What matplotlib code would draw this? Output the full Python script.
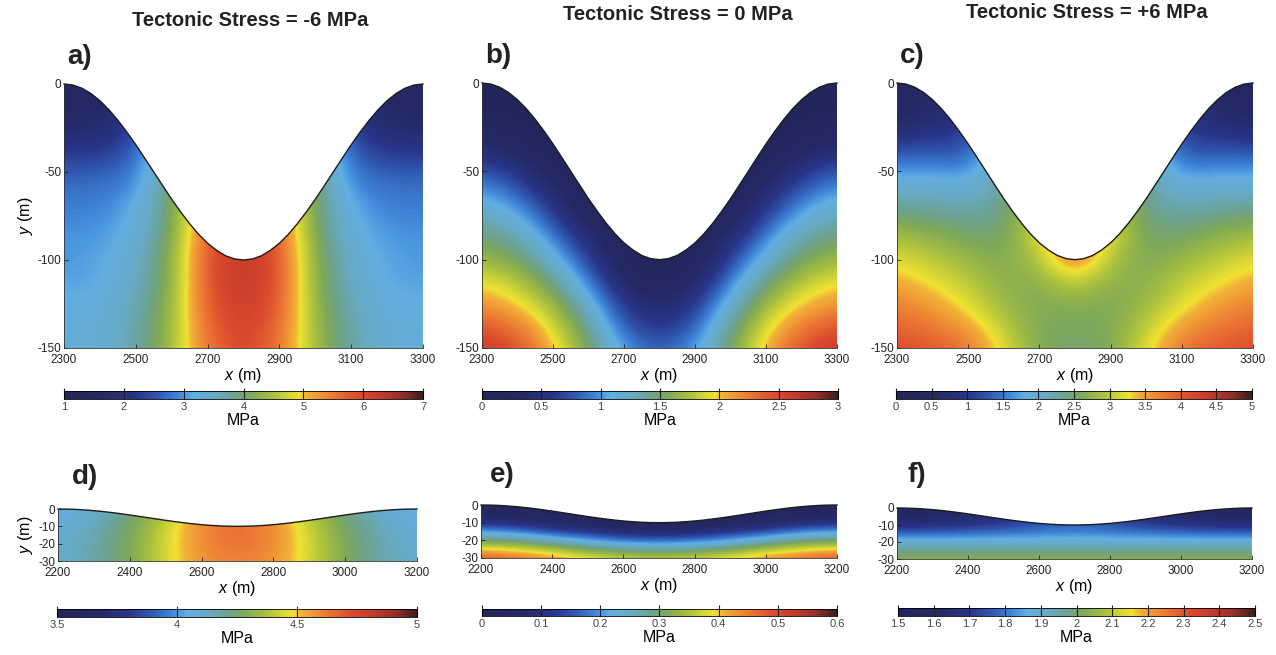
import numpy as np
import matplotlib
matplotlib.use("Agg")
import matplotlib.pyplot as plt
from matplotlib.colors import LinearSegmentedColormap
from matplotlib.patches import Polygon

plt.rcParams['font.family'] = ['Liberation Sans', 'DejaVu Sans']
plt.rcParams['mathtext.fontset'] = 'custom'
plt.rcParams['mathtext.it'] = 'Liberation Sans:italic'
plt.rcParams['mathtext.rm'] = 'Liberation Sans'
plt.rcParams['axes.unicode_minus'] = False

# ---- grids (m) ----
x_top = [2300, 2400, 2500, 2600, 2700, 2800, 2900, 3000, 3100, 3200, 3300]
y_top = [0, -12.5, -25, -37.5, -50, -62.5, -75, -87.5, -100, -112.5, -125, -137.5, -150]
x_bot = [2200, 2300, 2400, 2500, 2600, 2700, 2800, 2900, 3000, 3100, 3200]
y_bot = [0, -5, -10, -15, -20, -25, -30]

# topography (every 25 m)
surf_x_top = list(range(2300, 3301, 25))
surf_y_top = [0, -0.6, -2.4, -5.4, -9.5, -14.6, -20.6, -27.3, -34.5, -42.2, -50,
              -57.8, -65.5, -72.7, -79.4, -85.4, -90.5, -94.5, -97.6, -99.4, -100,
              -99.4, -97.6, -94.5, -90.5, -85.4, -79.4, -72.7, -65.5, -57.8, -50,
              -42.2, -34.5, -27.3, -20.6, -14.6, -9.5, -5.4, -2.4, -0.6, 0]
surf_x_bot = list(range(2200, 3201, 25))
surf_y_bot = [0, -0.06, -0.24, -0.55, -0.95, -1.46, -2.06, -2.73, -3.45, -4.22, -5.0,
              -5.78, -6.55, -7.27, -7.94, -8.54, -9.05, -9.45, -9.76, -9.94, -10.0,
              -9.94, -9.76, -9.45, -9.05, -8.54, -7.94, -7.27, -6.55, -5.78, -5.0,
              -4.22, -3.45, -2.73, -2.06, -1.46, -0.95, -0.55, -0.24, -0.06, 0]

# ---- stress fields (MPa), rows follow y (top to bottom), columns follow x ----
stress_a = [
    [1.6, 1.5, 2.0, 3.8, 5.6, 6.2, 5.6, 3.8, 2.0, 1.5, 1.6],
    [1.6, 1.6, 2.1, 3.8, 5.6, 6.2, 5.6, 3.8, 2.1, 1.6, 1.6],
    [1.8, 1.8, 2.3, 3.8, 5.6, 6.2, 5.6, 3.8, 2.3, 1.8, 1.8],
    [2.2, 2.2, 2.6, 3.9, 5.6, 6.2, 5.6, 3.9, 2.6, 2.2, 2.2],
    [2.6, 2.6, 2.8, 3.9, 5.6, 6.2, 5.6, 3.9, 2.8, 2.6, 2.6],
    [2.8, 2.8, 3.0, 4.0, 5.7, 6.2, 5.7, 4.0, 3.0, 2.8, 2.8],
    [2.9, 2.9, 3.2, 4.0, 5.7, 6.2, 5.7, 4.0, 3.2, 2.9, 2.9],
    [3.0, 3.0, 3.3, 4.1, 5.8, 6.3, 5.8, 4.1, 3.3, 3.0, 3.0],
    [3.0, 3.1, 3.4, 4.2, 5.9, 6.3, 5.9, 4.2, 3.4, 3.1, 3.0],
    [3.1, 3.1, 3.5, 4.2, 5.9, 6.3, 5.9, 4.2, 3.5, 3.1, 3.1],
    [3.2, 3.2, 3.6, 4.3, 5.8, 6.2, 5.8, 4.3, 3.6, 3.2, 3.2],
    [3.2, 3.3, 3.65, 4.35, 5.7, 6.1, 5.7, 4.35, 3.65, 3.3, 3.2],
    [3.3, 3.3, 3.7, 4.4, 5.6, 6.0, 5.6, 4.4, 3.7, 3.3, 3.3],
]
stress_b = [
    [0.0, 0.0, 0.0, 0.0, 0.0, 0.0, 0.0, 0.0, 0.0, 0.0, 0.0],
    [0.05, 0.0, 0.0, 0.0, 0.0, 0.0, 0.0, 0.0, 0.0, 0.0, 0.05],
    [0.2, 0.1, 0.0, 0.0, 0.0, 0.0, 0.0, 0.0, 0.0, 0.1, 0.2],
    [0.45, 0.3, 0.05, 0.0, 0.0, 0.0, 0.0, 0.0, 0.05, 0.3, 0.45],
    [0.8, 0.6, 0.2, 0.0, 0.0, 0.0, 0.0, 0.0, 0.2, 0.6, 0.8],
    [1.05, 0.85, 0.45, 0.05, 0.0, 0.0, 0.0, 0.05, 0.45, 0.85, 1.05],
    [1.3, 1.1, 0.7, 0.2, 0.0, 0.0, 0.0, 0.2, 0.7, 1.1, 1.3],
    [1.5, 1.35, 0.95, 0.45, 0.05, 0.0, 0.05, 0.45, 0.95, 1.35, 1.5],
    [1.7, 1.55, 1.2, 0.7, 0.15, 0.0, 0.15, 0.7, 1.2, 1.55, 1.7],
    [1.95, 1.8, 1.45, 0.95, 0.35, 0.1, 0.35, 0.95, 1.45, 1.8, 1.95],
    [2.15, 2.0, 1.7, 1.2, 0.6, 0.35, 0.6, 1.2, 1.7, 2.0, 2.15],
    [2.4, 2.25, 1.9, 1.4, 0.8, 0.55, 0.8, 1.4, 1.9, 2.25, 2.4],
    [2.6, 2.45, 2.05, 1.55, 1.0, 0.8, 1.0, 1.55, 2.05, 2.45, 2.6],
]
stress_c = [
    [0.2, 0.4, 1.0, 2.3, 3.2, 3.9, 3.2, 2.3, 1.0, 0.4, 0.2],
    [0.4, 0.6, 1.0, 2.3, 3.2, 3.9, 3.2, 2.3, 1.0, 0.6, 0.4],
    [0.7, 0.8, 1.0, 2.3, 3.2, 3.9, 3.2, 2.3, 1.0, 0.8, 0.7],
    [1.2, 1.3, 1.2, 2.3, 3.2, 3.9, 3.2, 2.3, 1.2, 1.3, 1.2],
    [1.7, 1.7, 1.6, 2.3, 3.2, 3.9, 3.2, 2.3, 1.6, 1.7, 1.7],
    [2.1, 2.1, 2.0, 2.3, 3.2, 3.9, 3.2, 2.3, 2.0, 2.1, 2.1],
    [2.5, 2.4, 2.3, 2.4, 3.2, 3.9, 3.2, 2.4, 2.3, 2.4, 2.5],
    [2.9, 2.75, 2.55, 2.5, 3.2, 3.9, 3.2, 2.5, 2.55, 2.75, 2.9],
    [3.2, 3.0, 2.8, 2.6, 2.9, 3.9, 2.9, 2.6, 2.8, 3.0, 3.2],
    [3.45, 3.25, 3.0, 2.7, 2.7, 3.1, 2.7, 2.7, 3.0, 3.25, 3.45],
    [3.7, 3.5, 3.2, 2.8, 2.6, 2.7, 2.6, 2.8, 3.2, 3.5, 3.7],
    [3.9, 3.75, 3.5, 3.0, 2.6, 2.55, 2.6, 3.0, 3.5, 3.75, 3.9],
    [4.1, 4.0, 3.8, 3.2, 2.6, 2.5, 2.6, 3.2, 3.8, 4.0, 4.1],
]
stress_d = [
    [4.02, 4.10, 4.22, 4.38, 4.55, 4.62, 4.55, 4.38, 4.22, 4.10, 4.02],
    [4.04, 4.12, 4.24, 4.40, 4.58, 4.64, 4.58, 4.40, 4.24, 4.12, 4.04],
    [4.06, 4.14, 4.26, 4.42, 4.60, 4.65, 4.60, 4.42, 4.26, 4.14, 4.06],
    [4.08, 4.15, 4.27, 4.43, 4.60, 4.65, 4.60, 4.43, 4.27, 4.15, 4.08],
    [4.09, 4.16, 4.28, 4.44, 4.60, 4.64, 4.60, 4.44, 4.28, 4.16, 4.09],
    [4.10, 4.17, 4.28, 4.44, 4.59, 4.63, 4.59, 4.44, 4.28, 4.17, 4.10],
    [4.10, 4.17, 4.28, 4.44, 4.58, 4.62, 4.58, 4.44, 4.28, 4.17, 4.10],
]
stress_e = [
    [0.02, 0.02, 0.02, 0.02, 0.02, 0.02, 0.02, 0.02, 0.02, 0.02, 0.02],
    [0.05, 0.04, 0.03, 0.02, 0.02, 0.02, 0.02, 0.02, 0.03, 0.04, 0.05],
    [0.11, 0.10, 0.07, 0.05, 0.03, 0.02, 0.03, 0.05, 0.07, 0.10, 0.11],
    [0.21, 0.19, 0.15, 0.12, 0.09, 0.08, 0.09, 0.12, 0.15, 0.19, 0.21],
    [0.30, 0.29, 0.25, 0.21, 0.18, 0.17, 0.18, 0.21, 0.25, 0.29, 0.30],
    [0.40, 0.38, 0.35, 0.31, 0.28, 0.27, 0.28, 0.31, 0.35, 0.38, 0.40],
    [0.48, 0.46, 0.43, 0.39, 0.37, 0.36, 0.37, 0.39, 0.43, 0.46, 0.48],
]
stress_f = [
    [1.58, 1.58, 1.60, 1.65, 1.72, 1.76, 1.72, 1.65, 1.60, 1.58, 1.58],
    [1.60, 1.60, 1.62, 1.67, 1.73, 1.77, 1.73, 1.67, 1.62, 1.60, 1.60],
    [1.66, 1.67, 1.69, 1.72, 1.76, 1.78, 1.76, 1.72, 1.69, 1.67, 1.66],
    [1.78, 1.78, 1.79, 1.80, 1.81, 1.82, 1.81, 1.80, 1.79, 1.78, 1.78],
    [1.89, 1.89, 1.89, 1.89, 1.89, 1.89, 1.89, 1.89, 1.89, 1.89, 1.89],
    [1.97, 1.97, 1.97, 1.97, 1.97, 1.97, 1.97, 1.97, 1.97, 1.97, 1.97],
    [2.04, 2.04, 2.04, 2.04, 2.04, 2.04, 2.04, 2.04, 2.04, 2.04, 2.04],
]

titles = ['Tectonic Stress = -6 MPa', 'Tectonic Stress = 0 MPa', 'Tectonic Stress = +6 MPa']
cbar_ticks = [
    [1, 2, 3, 4, 5, 6, 7],
    [0, 0.5, 1, 1.5, 2, 2.5, 3],
    [0, 0.5, 1, 1.5, 2, 2.5, 3, 3.5, 4, 4.5, 5],
    [3.5, 4, 4.5, 5],
    [0, 0.1, 0.2, 0.3, 0.4, 0.5, 0.6],
    [1.5, 1.6, 1.7, 1.8, 1.9, 2, 2.1, 2.2, 2.3, 2.4, 2.5],
]

# muted jet, as in the figure
cmap = LinearSegmentedColormap.from_list('mjet', [
    (0.00, '#23265a'), (0.12, '#252a68'), (0.20, '#283488'), (0.26, '#3058b0'),
    (0.31, '#3c80d4'), (0.335, '#4c98e0'), (0.36, '#62aee0'), (0.42, '#68aac4'),
    (0.48, '#6ea28a'), (0.52, '#7ea85a'), (0.58, '#a8c03e'), (0.655, '#f0e232'),
    (0.68, '#f2b038'), (0.75, '#ec7a34'), (0.82, '#dc4a2e'), (0.88, '#c43a2c'),
    (0.94, '#96302a'), (1.00, '#3a1e1e')])

W, H = 1276, 655
fig = plt.figure(figsize=(W / 100, H / 100), dpi=100)


def box(l, r, t, b):
    return [l / W, 1 - b / H, (r - l) / W, (b - t) / H]


panels = [
    (box(64, 423, 84, 348), box(64, 423, 391, 399), stress_a, 'top'),
    (box(482, 837, 83, 348), box(482, 838, 391, 399), stress_b, 'top'),
    (box(897, 1253, 83, 348), box(896, 1252, 391, 399), stress_c, 'top'),
    (box(58, 417, 509, 561), box(57, 417, 609, 617), stress_d, 'bot'),
    (box(481, 837, 505, 558), box(482, 837, 609, 616), stress_e, 'bot'),
    (box(897, 1252, 508, 559), box(898, 1255, 608, 616), stress_f, 'bot'),
]

for i, (apos, cpos, field, row) in enumerate(panels):
    ax = fig.add_axes(apos)
    if row == 'top':
        xs, ys, sx, sy = x_top, y_top, surf_x_top, surf_y_top
        xt, yt = [2300, 2500, 2700, 2900, 3100, 3300], [0, -50, -100, -150]
    else:
        xs, ys, sx, sy = x_bot, y_bot, surf_x_bot, surf_y_bot
        xt, yt = [2200, 2400, 2600, 2800, 3000, 3200], [0, -10, -20, -30]
    ticks = cbar_ticks[i]
    dx = xs[1] - xs[0]
    dy = ys[0] - ys[1]
    im = ax.imshow(np.array(field), cmap=cmap, vmin=ticks[0], vmax=ticks[-1],
                   interpolation='bicubic', aspect='auto', origin='upper',
                   extent=(xs[0] - dx / 2, xs[-1] + dx / 2, ys[-1] - dy / 2, ys[0] + dy / 2))
    verts = list(zip(sx, sy)) + [(sx[-1], ys[-1]), (sx[0], ys[-1])]
    clip = Polygon(verts, closed=True, transform=ax.transData,
                   facecolor='none', edgecolor='none')
    ax.add_patch(clip)
    im.set_clip_path(clip)
    ax.plot(sx, sy, color='#1c1c1c', lw=1.0, clip_on=False)
    ax.set_xlim(xs[0], xs[-1])
    ax.set_ylim(ys[-1], ys[0])
    ax.set_xticks(xt)
    ax.set_yticks(yt)
    for s in ['top', 'right']:
        ax.spines[s].set_visible(False)
    for s in ['left', 'bottom']:
        ax.spines[s].set_linewidth(0.6)
        ax.spines[s].set_color('#333333')
    ax.tick_params(direction='in', length=3, width=0.6, labelsize=8.5, pad=2,
                   colors='#222222')
    ax.tick_params(axis='x', pad=4)
    ax.set_xlabel(r'$\it{x}$ (m)', fontsize=11.5, labelpad=0)
    if i in (0, 3):
        ax.set_ylabel(r'$\it{y}$ (m)', fontsize=11.5, labelpad=2)

    cax = fig.add_axes(cpos)
    cb = fig.colorbar(im, cax=cax, orientation='horizontal', ticks=ticks)
    cb.set_ticklabels(['{:g}'.format(t) for t in ticks])
    cb.outline.set_linewidth(0.6)
    cax.tick_params(direction='in', length=8, width=0.8, color='#222222',
                    labelsize=8, labelcolor='#444444', pad=2)
    cb.set_label('MPa', fontsize=11.5, labelpad=1)

for j, (tx, ty) in enumerate([(250, 20), (678, 14), (1087, 12)]):
    fig.text(tx / W, 1 - ty / H, titles[j], ha='center', va='center',
             fontsize=14.5, fontweight='bold', color='#222222')

for lab, (lx, ly) in zip(['a)', 'b)', 'c)', 'd)', 'e)', 'f)'],
                         [(67, 57), (485, 56), (900, 56), (72, 477), (490, 475), (907, 475)]):
    fig.text(lx / W, 1 - ly / H, lab, ha='left', va='center', fontsize=20,
             fontweight='bold', color='#222222')

fig.savefig('out.png', dpi=100)
